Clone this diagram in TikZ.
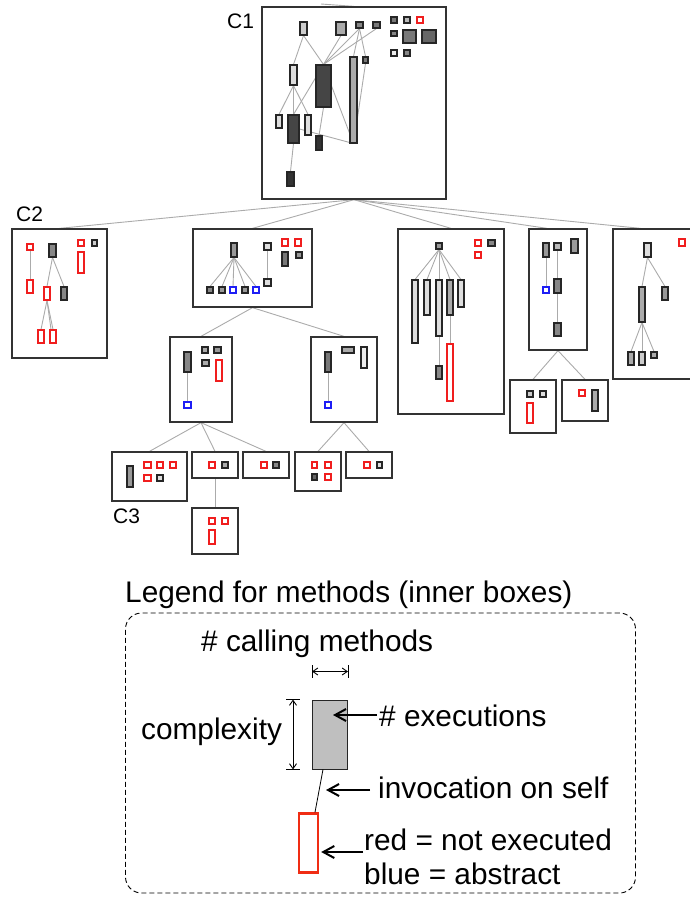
\documentclass[tikz,border=0pt]{standalone}
\usepackage{fontspec}
\setmainfont{Liberation Sans}
\usetikzlibrary{arrows.meta,calc}
\pgfdeclarelayer{bg}
\pgfsetlayers{bg,main}
\definecolor{nored}{RGB}{240,30,30}
\definecolor{noblue}{RGB}{30,30,245}
\definecolor{legred}{RGB}{240,45,20}
\tikzset{
  cls/.style={draw=black!80, line width=1.3pt, rectangle, inner sep=0pt},
  mth/.style={draw=black!85, line width=1.05pt, rectangle, inner sep=0pt},
  rd/.style={draw=nored, fill=white},
  bl/.style={draw=noblue, fill=white},
  e/.style={draw=black!33, line width=0.9pt},
  lbl/.style={font=\fontsize{29.8}{34}\selectfont, inner sep=0pt, anchor=base west},
  cl/.style={font=\fontsize{21}{24}\selectfont, inner sep=0pt, anchor=base west},
  la/.style={line width=2pt, -{Straight Barb[length=11pt,width=12pt,line width=2pt]}},
  dim/.style={line width=0.9pt, {Straight Barb[length=5pt,width=7pt]}-{Straight Barb[length=5pt,width=7pt]}}
}
% outer class box: name, x1, y1, x2, y2
\newcommand\clsbox[5]{\node[cls,minimum width={(#4-#2)*1pt},minimum height={(#5-#3)*1pt}] (#1) at ({(#2+#4)/2},{(#3+#5)/2}) {};}
% inner method box: [style], name, x1, y1, x2, y2
\newcommand\meth[6][]{\node[mth,#1,minimum width={(#5-#3)*1pt},minimum height={(#6-#4)*1pt}] (#2) at ({(#3+#5)/2},{(#4+#6)/2}) {};}
\begin{document}
\begin{tikzpicture}[x=1pt,y=-1pt]
\useasboundingbox (0,0) rectangle (689,897);

% ---------- class boxes ----------
\clsbox{C1}{262}{7}{446}{199}
\clsbox{C2}{12}{229}{107}{358}
\clsbox{B2}{193}{229}{312}{307}
\clsbox{B3}{398}{229}{504}{414}
\clsbox{B4}{529}{229}{587}{350}
\clsbox{B5}{613}{229}{702}{379}
\clsbox{L}{170}{337}{232}{422}
\clsbox{R}{311}{337}{377}{422}
\clsbox{C3}{112}{452}{187}{501}
\clsbox{M}{192}{452}{238}{478}
\clsbox{Mp}{192}{508}{238}{554}
\clsbox{N}{243}{452}{289}{478}
\clsbox{P}{295}{452}{341}{491}
\clsbox{Q}{346}{452}{392}{478}
\clsbox{K1}{510}{380}{556}{433}
\clsbox{K2}{562}{380}{608}{421}

\node[cl] (lc1) at (227,28) {C1};
\node[cl] (lc2) at (16,221) {C2};
\node[cl] (lc3) at (113,523) {C3};

% ---------- methods of C1 ----------
\meth[fill=black!20]{aA}{300}{22}{307}{35}
\meth[fill=black!33]{aB}{336}{22}{346}{35}
\meth[fill=black!47]{aC}{356}{22}{363}{28}
\meth[fill=black!53]{aD}{373}{22}{380}{28}
\meth[fill=black!53]{aE}{391}{17}{397}{23}
\meth[fill=black!27]{aF}{404}{17}{410}{23}
\meth[rd]{aG}{417}{17}{423}{23}
\meth[fill=black!47]{aH}{391}{31}{397}{36}
\meth[fill=black!53]{aI}{403}{30}{416}{43}
\meth[fill=black!60]{aJ}{422}{30}{436}{43}
\meth[fill=black!7]{aK}{391}{50}{397}{56}
\meth[fill=black!47]{aL}{404}{50}{410}{56}
\meth[fill=black!13]{aM}{290}{65}{297}{85}
\meth[fill=black!73]{aN}{316}{65}{331}{107}
\meth[fill=black!33]{aO}{350}{57}{357}{143}
\meth[fill=black!53]{aP}{363}{57}{368}{63}
\meth[fill=black!13]{aQ}{276}{115}{282}{128}
\meth[fill=black!73]{aR}{288}{115}{299}{143}
\meth[fill=black!13]{aS}{305}{115}{311}{135}
\meth[fill=black!80]{aT}{316}{136}{322}{150}
\meth[fill=black!80]{aU}{287}{172}{294}{186}

% ---------- methods of C2 ----------
\meth[rd]{ba}{27}{244}{33}{250}
\meth[fill=black!47]{bb}{49}{244}{56}{257}
\meth[rd]{bc}{78}{240}{84}{246}
\meth[fill=black!20]{bd}{92}{240}{97}{246}
\meth[rd]{be}{78}{252}{84}{273}
\meth[rd]{bf}{27}{280}{33}{293}
\meth[rd]{bg}{44}{287}{50}{300}
\meth[fill=black!47]{bh}{61}{287}{67}{300}
\meth[rd]{bi}{38}{330}{44}{343}
\meth[rd]{bj}{50}{330}{56}{343}

% ---------- methods of B2 ----------
\meth[fill=black!40]{ca}{231}{243}{237}{257}
\meth[fill=black!13]{cb}{264}{243}{271}{250}
\meth[rd]{cc}{282}{239}{288}{246}
\meth[rd]{cd}{295}{239}{301}{246}
\meth[fill=black!53]{ce}{282}{252}{288}{266}
\meth[fill=black!40]{cf}{296}{252}{302}{258}
\meth[fill=black!13]{cg}{264}{279}{271}{286}
\meth[fill=black!47]{ch}{207}{287}{213}{293}
\meth[fill=black!40]{ci}{219}{287}{225}{293}
\meth[bl]{cj}{230}{287}{236}{293}
\meth[fill=black!40]{ck}{242}{287}{248}{293}
\meth[bl]{cl}{253}{287}{259}{293}

% ---------- methods of B3 ----------
\meth[fill=black!40]{da}{436}{243}{442}{249}
\meth[rd]{db}{475}{240}{481}{246}
\meth[fill=black!47]{dc}{488}{240}{495}{246}
\meth[rd]{dd}{475}{252}{481}{258}
\meth[fill=black!13]{de}{412}{280}{418}{343}
\meth[fill=black!13]{df}{424}{280}{430}{315}
\meth[fill=black!13]{dg}{436}{280}{442}{336}
\meth[fill=black!33]{dh}{447}{280}{453}{315}
\meth[fill=black!13]{di}{458}{280}{464}{307}
\meth[fill=black!47]{dj}{436}{366}{442}{379}
\meth[rd]{dk}{447}{344}{453}{401}

% ---------- methods of B4 ----------
\meth[fill=black!40]{ea}{543}{243}{549}{257}
\meth[fill=black!27]{eb}{554}{243}{561}{250}
\meth[fill=black!40]{ec}{571}{239}{578}{253}
\meth[bl]{ed}{543}{287}{549}{293}
\meth[fill=black!47]{ee}{554}{279}{561}{293}
\meth[fill=black!47]{ef}{554}{323}{561}{336}

% ---------- methods of B5 ----------
\meth[rd]{fr}{679}{239}{685}{246}
\meth[fill=black!13]{fa}{644}{243}{651}{257}
\meth[fill=black!33]{fb}{639}{287}{645}{322}
\meth[fill=black!40]{fc}{662}{287}{668}{300}
\meth[fill=black!33]{fd}{628}{352}{634}{365}
\meth[fill=black!20]{fe}{639}{352}{645}{365}
\meth[fill=black!33]{ff}{651}{352}{657}{358}

% ---------- methods of L and R ----------
\meth[fill=black!47]{ga}{184}{352}{191}{372}
\meth[fill=black!33]{gb}{202}{347}{208}{353}
\meth[fill=black!40]{gc}{214}{347}{221}{353}
\meth[fill=black!33]{gd}{202}{360}{209}{366}
\meth[rd]{ge}{216}{360}{222}{381}
\meth[bl]{gf}{184}{402}{191}{408}
\meth[fill=black!53]{ha}{325}{352}{331}{372}
\meth[fill=black!33]{hb}{342}{347}{354}{353}
\meth[fill=black!7]{hc}{361}{347}{367}{368}
\meth[bl]{hd}{325}{402}{331}{408}

% ---------- methods of the lowest classes ----------
\meth[fill=black!40]{ia}{127}{466}{133}{487}
\meth[rd]{ib}{144}{462}{151}{468}
\meth[rd]{ic}{157}{462}{163}{468}
\meth[rd]{id}{170}{462}{176}{468}
\meth[rd]{ie}{144}{475}{151}{481}
\meth[fill=black!13]{iff}{157}{475}{163}{481}
\meth[rd]{ja}{209}{462}{215}{468}
\meth[fill=black!33]{jb}{222}{462}{228}{468}
\meth[rd]{jc}{209}{518}{215}{524}
\meth[rd]{jd}{222}{518}{228}{524}
\meth[rd]{je}{209}{530}{215}{544}
\meth[rd]{ka}{261}{462}{267}{468}
\meth[fill=black!47]{kb}{273}{462}{279}{468}
\meth[rd]{pa}{312}{462}{317}{468}
\meth[rd]{pb}{325}{462}{331}{468}
\meth[fill=black!60]{pc}{312}{474}{317}{480}
\meth[rd]{pd}{325}{474}{331}{480}
\meth[rd]{qa}{364}{462}{370}{468}
\meth[fill=black!13]{qb}{377}{462}{382}{468}
\meth[fill=black!20]{ka1}{527}{391}{533}{397}
\meth[fill=black!13]{ka2}{540}{391}{546}{397}
\meth[rd]{ka3}{527}{403}{533}{423}
\meth[rd]{kb1}{579}{390}{585}{396}
\meth[fill=black!33]{kb2}{592}{390}{598}{411}

% ---------- connectors ----------
\begin{pgfonlayer}{bg}
\coordinate (top) at (321,4);
\draw[e] (top) -- (C1.north);
% class hierarchy
\foreach \t in {C2,B2,B3}{\draw[e] (C1.south) -- (\t.north);}
\draw[e] (C1.south) -- ([xshift=-11pt]B4.north);
\draw[e] (C1.south) -- ([xshift=-17pt]B5.north);
\draw[e] (B2.south) -- (L.north);
\draw[e] (B2.south) -- (R.north);
\foreach \t in {C3,M,N}{\draw[e] (L.south) -- (\t.north);}
\draw[e] (M.south) -- (Mp.north);
\draw[e] (R.south) -- (P.north);
\draw[e] (R.south) -- (Q.north);
\draw[e] (B4.south) -- (K1.north);
\draw[e] (B4.south) -- (K2.north);
% calls inside C1
\draw[e] (aA.south) -- (aM.north);
\draw[e] (aA.south) -- (aN.north);
\draw[e] (aB.south) -- (aN.north);
\draw[e] (aC.south) -- (aN.north);
\draw[e] (aD.south) -- (aN.north);
\draw[e] (aC.south) -- (aO.north);
\draw[e] (aC.south) -- (aP.north);
\foreach \t in {aQ,aR,aS}{\draw[e] (aM.south) -- (\t.north);}
\draw[e] (aN.135) -- (aR.north);
\draw[e] (aN.south) -- (aT.north);
\draw[e] (aN.east) -- (aO.south);
\draw[e] (aR.east) -- (aO.south);
\draw[e] (aR.south) -- (aU.north);
\draw[e] (aP.south) -- ($(aO.north east)!0.7!(aO.south east)$);
% calls inside C2
\draw[e] (ba.south) -- (bf.north);
\draw[e] (bb.south) -- (bg.north);
\draw[e] (bb.south) -- (bh.north);
\draw[e] (bg.south) -- (bi.north);
\draw[e] (bg.south) -- (bj.north);
\draw[e] (bg.south) -- (bj.south);
% calls inside B2
\foreach \t in {ch,ci,cj,ck,cl}{\draw[e] (ca.south) -- (\t.north);}
\draw[e] (cb.south) -- (cg.north);
% calls inside B3
\foreach \t in {de,df,dg,dh,di}{\draw[e] (da.south) -- (\t.north);}
\draw[e] (dg.south) -- (dj.north);
\draw[e] (dh.south) -- (dk.north);
% calls inside B4
\draw[e] (ea.south) -- (ed.north);
\draw[e] (eb.south) -- (ee.north);
\draw[e] (ee.south) -- (ef.north);
% calls inside B5
\draw[e] (fa.south) -- (fb.north);
\draw[e] (fa.south) -- (fc.north);
\foreach \t in {fd,fe,ff}{\draw[e] (fb.south) -- (\t.north);}
% calls inside L and R
\draw[e] (ga.south) -- (gf.north);
\draw[e] (ha.south) -- (hd.north);
\end{pgfonlayer}

% ---------- legend ----------
\node[lbl] (ltitle) at (125,602) {Legend for methods (inner boxes)};
\node[draw=black, line width=0.9pt, dash pattern=on 5pt off 3pt, rounded corners=16pt,
      minimum width=510pt, minimum height=280pt, inner sep=0pt] (legbox) at (380.5,753) {};
\node[lbl] (tcall) at (201,651) {\# calling methods};
\node[lbl] (tcplx) at (141,739) {complexity};
\node[lbl] (texec) at (379,726) {\# executions};
\node[lbl] (tinv) at (378,798) {invocation on self};
\node[lbl] (tred) at (364,850) {red = not executed};
\node[lbl] (tblue) at (364,884) {blue = abstract};

\node[draw=black!85, fill=black!25, line width=0.9pt, minimum width=35pt, minimum height=69pt, inner sep=0pt] (gbox) at (330,734.5) {};
\node[draw=legred, fill=white, line width=2.4pt, minimum width=19pt, minimum height=59pt, inner sep=0pt] (rbox) at (308.5,843) {};
\draw[line width=0.8pt] ([xshift=-7pt]gbox.south) -- ([xshift=6.5pt]rbox.north);

% width and height marks
\draw[line width=0.9pt] (gbox.north west |- 0,665) -- (gbox.north west |- 0,678);
\draw[line width=0.9pt] (gbox.north east |- 0,665) -- (gbox.north east |- 0,678);
\draw[dim] (gbox.north west |- 0,671.5) -- (gbox.north east |- 0,671.5);
\coordinate (cx) at (293,0);
\draw[line width=0.9pt] (286,0 |- gbox.north) -- (300,0 |- gbox.north);
\draw[line width=0.9pt] (286,0 |- gbox.south) -- (300,0 |- gbox.south);
\draw[dim] (cx |- gbox.north) -- (cx |- gbox.south);

% pointer arrows
\coordinate (ex0) at (377,715);
\coordinate (ex1) at (333,715);
\draw[la] (ex0) -- (ex1);
\coordinate (iv0) at (370,790);
\coordinate (iv1) at (326,790);
\draw[la] (iv0) -- (iv1);
\coordinate (rd0) at (363,852);
\draw[la] (rd0) -- ([xshift=2pt]rbox.east |- rd0);
\end{tikzpicture}
\end{document}
